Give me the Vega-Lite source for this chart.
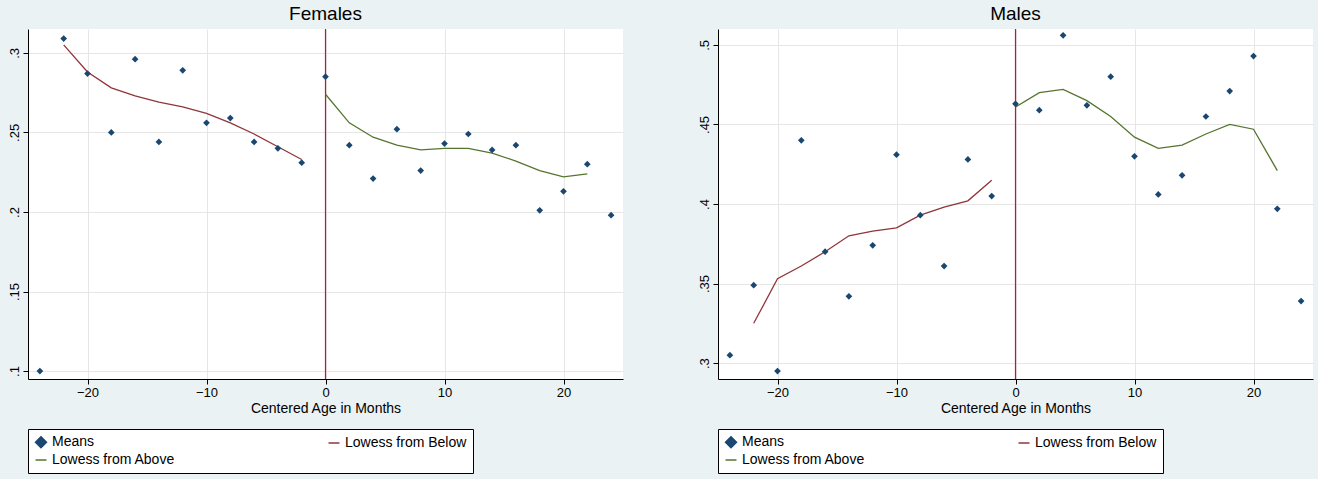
{
"$schema":"https://vega.github.io/schema/vega-lite/v6.json",
"background":"#eaf2f3",
"padding":{"left":8,"right":5,"top":5,"bottom":5},
"resolve":{"scale":{"x":"independent","y":"independent","color":"independent","shape":"independent"},"legend":{"color":"independent","shape":"independent"}},
"config":{"view":{"fill":"white","stroke":null},"font":"Liberation Sans","concat":{"spacing":75},
"axis":{"grid":true,"gridColor":"#e6e6e6","domainColor":"#000","tickColor":"#000","labelFontSize":13,"titleFontSize":14,"titleFontWeight":"normal","labelColor":"#000","titleColor":"#000"},
"legend":{"orient":"bottom","direction":"horizontal","columns":2,"columnPadding":150,"strokeColor":"#000","fillColor":"white","padding":6,"labelFontSize":14,"symbolStrokeWidth":1.5,"symbolSize":120,"title":null,"labelLimit":300,"offset":14},
"title":{"fontSize":19,"fontWeight":"normal","color":"#000"}},
"datasets":{"f":[
{"s":"Means","x":-24,"y":0.100},{"s":"Means","x":-22,"y":0.309},{"s":"Means","x":-20,"y":0.287},{"s":"Means","x":-18,"y":0.250},{"s":"Means","x":-16,"y":0.296},{"s":"Means","x":-14,"y":0.244},{"s":"Means","x":-12,"y":0.289},{"s":"Means","x":-10,"y":0.256},{"s":"Means","x":-8,"y":0.259},{"s":"Means","x":-6,"y":0.244},{"s":"Means","x":-4,"y":0.240},{"s":"Means","x":-2,"y":0.231},{"s":"Means","x":0,"y":0.285},{"s":"Means","x":2,"y":0.242},{"s":"Means","x":4,"y":0.221},{"s":"Means","x":6,"y":0.252},{"s":"Means","x":8,"y":0.226},{"s":"Means","x":10,"y":0.243},{"s":"Means","x":12,"y":0.249},{"s":"Means","x":14,"y":0.239},{"s":"Means","x":16,"y":0.242},{"s":"Means","x":18,"y":0.201},{"s":"Means","x":20,"y":0.213},{"s":"Means","x":22,"y":0.230},{"s":"Means","x":24,"y":0.198},
{"s":"Lowess from Below","x":-22,"y":0.305},{"s":"Lowess from Below","x":-20,"y":0.288},{"s":"Lowess from Below","x":-18,"y":0.278},{"s":"Lowess from Below","x":-16,"y":0.273},{"s":"Lowess from Below","x":-14,"y":0.269},{"s":"Lowess from Below","x":-12,"y":0.266},{"s":"Lowess from Below","x":-10,"y":0.262},{"s":"Lowess from Below","x":-8,"y":0.256},{"s":"Lowess from Below","x":-6,"y":0.249},{"s":"Lowess from Below","x":-4,"y":0.241},{"s":"Lowess from Below","x":-2,"y":0.233},
{"s":"Lowess from Above","x":0,"y":0.274},{"s":"Lowess from Above","x":2,"y":0.256},{"s":"Lowess from Above","x":4,"y":0.247},{"s":"Lowess from Above","x":6,"y":0.242},{"s":"Lowess from Above","x":8,"y":0.239},{"s":"Lowess from Above","x":10,"y":0.240},{"s":"Lowess from Above","x":12,"y":0.240},{"s":"Lowess from Above","x":14,"y":0.237},{"s":"Lowess from Above","x":16,"y":0.232},{"s":"Lowess from Above","x":18,"y":0.226},{"s":"Lowess from Above","x":20,"y":0.222},{"s":"Lowess from Above","x":22,"y":0.224}],
"m":[
{"s":"Means","x":-24,"y":0.305},{"s":"Means","x":-22,"y":0.349},{"s":"Means","x":-20,"y":0.295},{"s":"Means","x":-18,"y":0.440},{"s":"Means","x":-16,"y":0.370},{"s":"Means","x":-14,"y":0.342},{"s":"Means","x":-12,"y":0.374},{"s":"Means","x":-10,"y":0.431},{"s":"Means","x":-8,"y":0.393},{"s":"Means","x":-6,"y":0.361},{"s":"Means","x":-4,"y":0.428},{"s":"Means","x":-2,"y":0.405},{"s":"Means","x":0,"y":0.463},{"s":"Means","x":2,"y":0.459},{"s":"Means","x":4,"y":0.506},{"s":"Means","x":6,"y":0.462},{"s":"Means","x":8,"y":0.480},{"s":"Means","x":10,"y":0.430},{"s":"Means","x":12,"y":0.406},{"s":"Means","x":14,"y":0.418},{"s":"Means","x":16,"y":0.455},{"s":"Means","x":18,"y":0.471},{"s":"Means","x":20,"y":0.493},{"s":"Means","x":22,"y":0.397},{"s":"Means","x":24,"y":0.339},
{"s":"Lowess from Below","x":-22,"y":0.325},{"s":"Lowess from Below","x":-20,"y":0.353},{"s":"Lowess from Below","x":-18,"y":0.361},{"s":"Lowess from Below","x":-16,"y":0.370},{"s":"Lowess from Below","x":-14,"y":0.380},{"s":"Lowess from Below","x":-12,"y":0.383},{"s":"Lowess from Below","x":-10,"y":0.385},{"s":"Lowess from Below","x":-8,"y":0.393},{"s":"Lowess from Below","x":-6,"y":0.398},{"s":"Lowess from Below","x":-4,"y":0.402},{"s":"Lowess from Below","x":-2,"y":0.415},
{"s":"Lowess from Above","x":0,"y":0.461},{"s":"Lowess from Above","x":2,"y":0.470},{"s":"Lowess from Above","x":4,"y":0.472},{"s":"Lowess from Above","x":6,"y":0.465},{"s":"Lowess from Above","x":8,"y":0.455},{"s":"Lowess from Above","x":10,"y":0.442},{"s":"Lowess from Above","x":12,"y":0.435},{"s":"Lowess from Above","x":14,"y":0.437},{"s":"Lowess from Above","x":16,"y":0.444},{"s":"Lowess from Above","x":18,"y":0.450},{"s":"Lowess from Above","x":20,"y":0.447},{"s":"Lowess from Above","x":22,"y":0.421}
]},
"hconcat":[
{"title":"Females","width":595,"height":350,"data":{"name":"f"},
"layer":[
{"transform":[{"filter":"datum.s==='Means' && datum.x===0"}],"mark":{"type":"rule","stroke":"#d0103a","strokeWidth":1.2},"encoding":{"x":{"field":"x","type":"quantitative","scale":{"domain":[-25,25],"nice":false}}}},
{"transform":[{"filter":"datum.s!=='Means'"}],"mark":{"type":"line","strokeWidth":1.3},"encoding":{"x":{"field":"x","type":"quantitative","scale":{"domain":[-25,25],"nice":false}},"y":{"field":"y","type":"quantitative","scale":{"domain":[0.095,0.315],"nice":false}},"detail":{"field":"s"},"color":{"field":"s","type":"nominal","scale":{"domain":["Means","Lowess from Below","Lowess from Above"],"range":["#1a476f","#90353b","#55752f"]}}}},
{"transform":[{"filter":"datum.s==='Means'"}],"mark":{"type":"point","filled":true,"opacity":1,"size":45},"encoding":{
"x":{"field":"x","type":"quantitative","scale":{"domain":[-25,25],"nice":false},"axis":{"values":[-20,-10,0,10,20],"title":"Centered Age in Months","titlePadding":2}},
"y":{"field":"y","type":"quantitative","scale":{"domain":[0.095,0.315],"nice":false},"axis":{"values":[0.1,0.15,0.2,0.25,0.3],"labelExpr":"replace(format(datum.value,'.2~f'),'0.','.')","labelAngle":270,"labelAlign":"center","labelBaseline":"bottom","title":null}},
"color":{"field":"s","type":"nominal","scale":{"domain":["Means","Lowess from Below","Lowess from Above"],"range":["#1a476f","#90353b","#55752f"]}},
"shape":{"field":"s","type":"nominal","scale":{"domain":["Means","Lowess from Below","Lowess from Above"],"range":["diamond","stroke","stroke"]}}}}
]},
{"title":"Males","width":595,"height":350,"data":{"name":"m"},
"layer":[
{"transform":[{"filter":"datum.s==='Means' && datum.x===0"}],"mark":{"type":"rule","stroke":"#d0103a","strokeWidth":1.2},"encoding":{"x":{"field":"x","type":"quantitative","scale":{"domain":[-25,25],"nice":false}}}},
{"transform":[{"filter":"datum.s!=='Means'"}],"mark":{"type":"line","strokeWidth":1.3},"encoding":{"x":{"field":"x","type":"quantitative","scale":{"domain":[-25,25],"nice":false}},"y":{"field":"y","type":"quantitative","scale":{"domain":[0.29,0.51],"nice":false}},"detail":{"field":"s"},"color":{"field":"s","type":"nominal","scale":{"domain":["Means","Lowess from Below","Lowess from Above"],"range":["#1a476f","#90353b","#55752f"]}}}},
{"transform":[{"filter":"datum.s==='Means'"}],"mark":{"type":"point","filled":true,"opacity":1,"size":45},"encoding":{
"x":{"field":"x","type":"quantitative","scale":{"domain":[-25,25],"nice":false},"axis":{"values":[-20,-10,0,10,20],"title":"Centered Age in Months","titlePadding":2}},
"y":{"field":"y","type":"quantitative","scale":{"domain":[0.29,0.51],"nice":false},"axis":{"values":[0.3,0.35,0.4,0.45,0.5],"labelExpr":"replace(format(datum.value,'.2~f'),'0.','.')","labelAngle":270,"labelAlign":"center","labelBaseline":"bottom","title":null}},
"color":{"field":"s","type":"nominal","scale":{"domain":["Means","Lowess from Below","Lowess from Above"],"range":["#1a476f","#90353b","#55752f"]}},
"shape":{"field":"s","type":"nominal","scale":{"domain":["Means","Lowess from Below","Lowess from Above"],"range":["diamond","stroke","stroke"]}}}}
]}
]
}
